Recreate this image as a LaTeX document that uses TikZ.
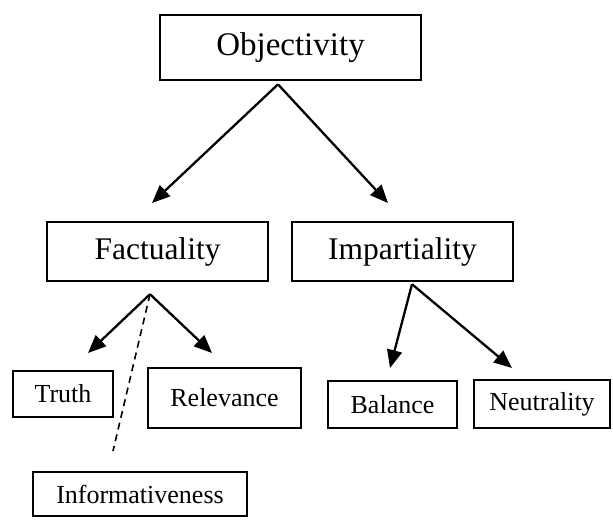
\documentclass[tikz,border=0pt]{standalone}
\usepackage{fontspec}
\setmainfont{Liberation Serif}
\usetikzlibrary{arrows.meta}

\begin{document}
\begin{tikzpicture}[x=1pt, y=-1pt,
		box/.style={draw, line width=2.4pt, inner sep=0pt},
		leaf/.style={draw, line width=1.3pt, inner sep=0pt, font=\fontsize{26}{28}\selectfont},
		arr/.style={line width=2.3pt, -{Triangle[length=18pt, width=15pt]}}]
		\useasboundingbox (0, 0) rectangle (613, 525);
		% top
		\node[box, line width=2.7pt, minimum width=261pt, minimum height=65pt, font=\fontsize{33}{36}\selectfont] (obj) at (290.5, 47.5) {Objectivity};
		% second level
		\node[box, minimum width=221pt, minimum height=59pt, font=\fontsize{31.5}{34}\selectfont] (fact) at (157.5, 251.5) {Factuality};
		\node[box, minimum width=221pt, minimum height=59pt, font=\fontsize{31.5}{34}\selectfont] (imp) at (402.5, 251.5) {Impartiality};
		% leaves
		\node[leaf, minimum width=100pt, minimum height=46pt] (truth) at (63, 394) {Truth};
		\node[leaf, minimum width=153pt, minimum height=60pt] (rel) at (224.5, 398) {Relevance};
		\node[leaf, minimum width=129pt, minimum height=47pt] (bal) at (392.5, 404.5) {Balance};
		\node[leaf, minimum width=136pt, minimum height=48pt] (neu) at (542, 404) {Neutrality};
		\node[leaf, minimum width=214pt, minimum height=44pt] (info) at (140, 494) {Informativeness};
		% arrow ends
		\coordinate (a1) at ([xshift=-12.5pt, yshift=-3pt]obj.south);
		\coordinate (a2) at ([xshift=-7.5pt, yshift=-12pt]fact.south);
		\coordinate (a3) at ([xshift=9.5pt, yshift=-2pt]imp.south);
		\coordinate (t1) at (152, 203);
		\coordinate (t2) at (388, 203);
		\coordinate (t3) at (88, 353);
		\coordinate (t4) at (212, 353);
		\coordinate (t5) at (390, 368);
		\coordinate (t6) at (512, 368);
		\coordinate (d1) at (113, 451);
		\draw[arr] (a1) -- (t1);
		\draw[arr] (a1) -- (t2);
		\draw[arr] (a2) -- (t3);
		\draw[arr] (a2) -- (t4);
		\draw[arr] (a3) -- (t5);
		\draw[arr] (a3) -- (t6);
		\draw[line width=1.6pt, dash pattern=on 7pt off 5pt] (a2) -- (d1);
	\end{tikzpicture}
\end{document}
